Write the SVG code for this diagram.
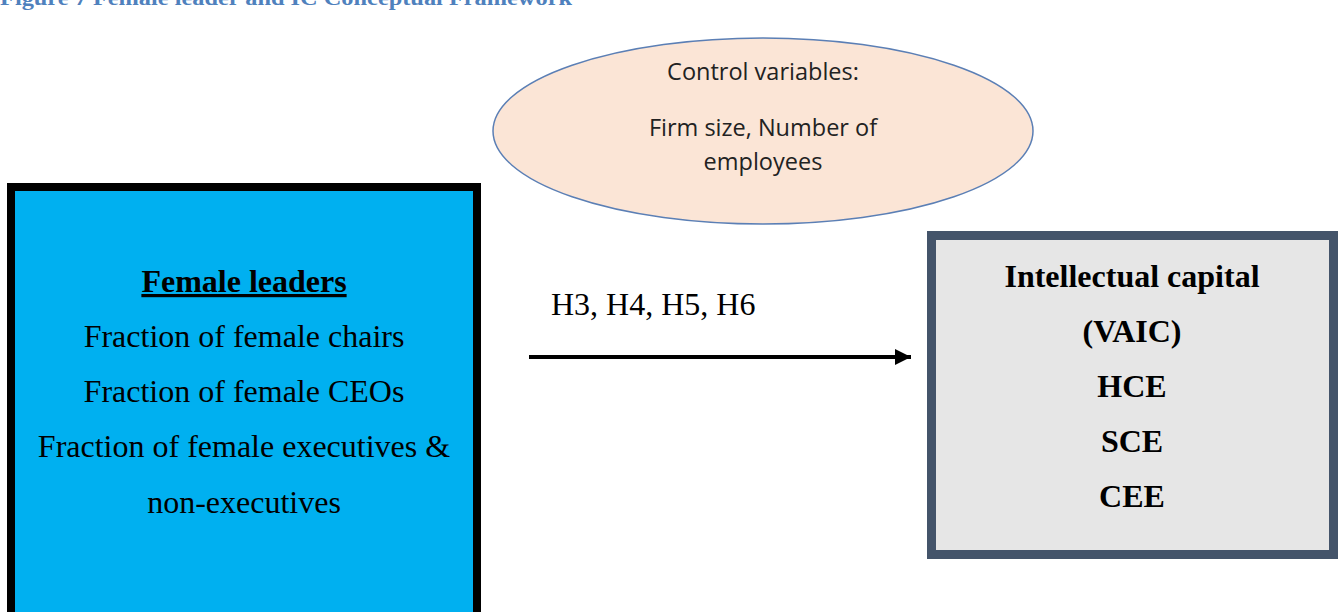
<svg xmlns="http://www.w3.org/2000/svg" width="1340" height="612" viewBox="0 0 1340 612">
<style>
.serif{font-family:"Liberation Serif","Times New Roman",serif;fill:#000}
.sans{font-family:"Open Sans","Liberation Sans",sans-serif;fill:#222}
.lt{font-size:32px;text-anchor:middle}
.rt{font-size:32px;font-weight:bold;text-anchor:middle}
.ct{font-size:23.5px;text-anchor:middle}
</style>
<defs>
<marker id="ah" markerWidth="16" markerHeight="16" refX="16" refY="8" orient="auto" markerUnits="userSpaceOnUse">
<path d="M0,0 L16,8 L0,16 Z" fill="#000"/>
</marker>
</defs>
<rect width="1340" height="612" fill="#fff"/>
<text x="0" y="5" font-family="Liberation Serif,serif" font-weight="bold" font-size="20" fill="#4F81BD" textLength="572" lengthAdjust="spacingAndGlyphs">Figure 7 Female leader and IC Conceptual Framework</text>
<g id="control">
<ellipse cx="763" cy="131" rx="270" ry="93" fill="#FBE5D6" stroke="#5B7FB5" stroke-width="1.5"/>
<text class="sans ct" x="763" y="80">Control variables:</text>
<text class="sans ct" x="763" y="136">Firm size, Number of</text>
<text class="sans ct" x="763" y="170">employees</text>
</g>
<g id="female">
<rect x="11" y="187" width="466" height="440" fill="#00B0F0" stroke="#000" stroke-width="8"/>
<text class="serif lt" x="244" y="292" font-weight="bold" text-decoration="underline">Female leaders</text>
<text class="serif lt" x="244" y="347">Fraction of female chairs</text>
<text class="serif lt" x="244" y="402">Fraction of female CEOs</text>
<text class="serif lt" x="244" y="457">Fraction of female executives &amp;</text>
<text class="serif lt" x="244" y="513">non-executives</text>
</g>
<g id="ic">
<rect x="931.5" y="235.5" width="402" height="319" fill="#E6E6E6" stroke="#44546A" stroke-width="9"/>
<text class="serif rt" x="1132" y="287">Intellectual capital</text>
<text class="serif rt" x="1132" y="342">(VAIC)</text>
<text class="serif rt" x="1132" y="397">HCE</text>
<text class="serif rt" x="1132" y="452">SCE</text>
<text class="serif rt" x="1132" y="507">CEE</text>
</g>
<g id="connectors">
<line x1="529" y1="357" x2="911" y2="357" stroke="#000" stroke-width="4" marker-end="url(#ah)"/>
<text class="serif" x="551" y="315" font-size="32">H3, H4, H5, H6</text>
</g>
</svg>
